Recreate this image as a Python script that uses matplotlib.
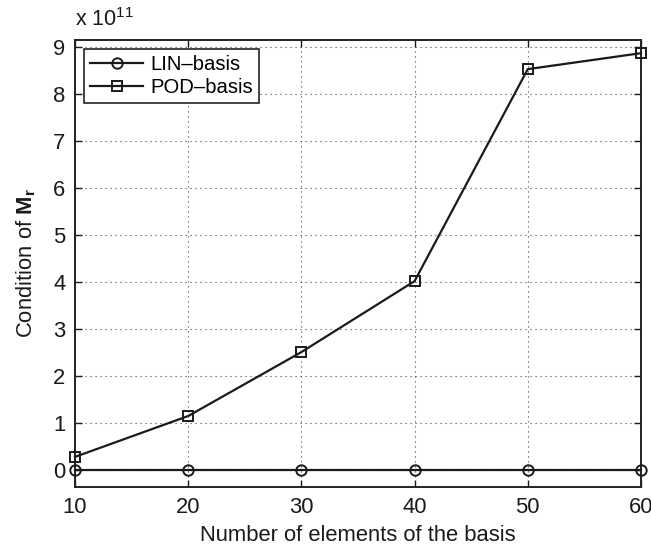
import matplotlib
matplotlib.use("Agg")
import matplotlib.pyplot as plt
from matplotlib.ticker import FuncFormatter

n_elements = [10, 20, 30, 40, 50, 60]
lin_cond = [0.0, 0.0, 0.0, 0.0, 0.0, 0.0]
pod_cond = [0.28e11, 1.15e11, 2.51e11, 4.02e11, 8.53e11, 8.87e11]
x_ticks = [10, 20, 30, 40, 50, 60]
y_ticks = [0, 1, 2, 3, 4, 5, 6, 7, 8, 9]

plt.rcParams['font.family'] = ['Liberation Sans', 'DejaVu Sans']
plt.rcParams['mathtext.fontset'] = 'custom'
plt.rcParams['mathtext.rm'] = 'Liberation Sans'
plt.rcParams['mathtext.bf'] = 'Liberation Sans:bold'
plt.rcParams['mathtext.it'] = 'Liberation Sans:italic'

fs = 15.8
fig = plt.figure(figsize=(6.51, 5.51), dpi=100)
ax = fig.add_axes([0.1152, 0.1162, 0.9846 - 0.1152, 0.9274 - 0.1162])

col = '#1a1a1a'
ax.plot(n_elements, lin_cond, '-o', color=col, lw=1.6, markersize=7.5,
        markerfacecolor='none', markeredgewidth=1.4, label='LIN–basis', clip_on=False, zorder=3)
ax.plot(n_elements, pod_cond, '-s', color=col, lw=1.6, markersize=6.5,
        markerfacecolor='none', markeredgewidth=1.4, label='POD–basis', clip_on=False, zorder=3)

ax.set_xlim(10, 60)
ax.set_ylim(-0.36e11, 9.15e11)
ax.set_xticks(x_ticks)
ax.set_yticks([v * 1e11 for v in y_ticks])
ax.yaxis.set_major_formatter(FuncFormatter(lambda v, p: f"{v/1e11:.0f}"))
ax.tick_params(direction='in', top=True, right=True, labelsize=fs, length=5,
               width=1.0, colors=col, pad=7)
for s in ax.spines.values():
    s.set_linewidth(1.4)
    s.set_color('#222222')
ax.grid(True, linestyle=(0, (1, 3.5)), color='#444444', linewidth=0.8)

ax.set_xlabel('Number of elements of the basis', fontsize=fs, color=col, labelpad=5)
ax.set_ylabel(r'Condition of $\mathbf{M_r}$', fontsize=fs, color=col, labelpad=11)
ax.text(0.0, 1.02, r'x 10$^{11}$', transform=ax.transAxes, fontsize=15.5,
        color=col, ha='left', va='bottom')

leg = ax.legend(loc='upper left', fontsize=14.6, frameon=True, fancybox=False,
                edgecolor='#222222', borderpad=0.3, handlelength=2.6,
                handletextpad=0.35, labelspacing=0.2, borderaxespad=0.45)
leg.get_frame().set_linewidth(1.2)
leg.get_frame().set_facecolor('white')
leg.get_frame().set_alpha(1)

fig.savefig('out.png', dpi=100)
